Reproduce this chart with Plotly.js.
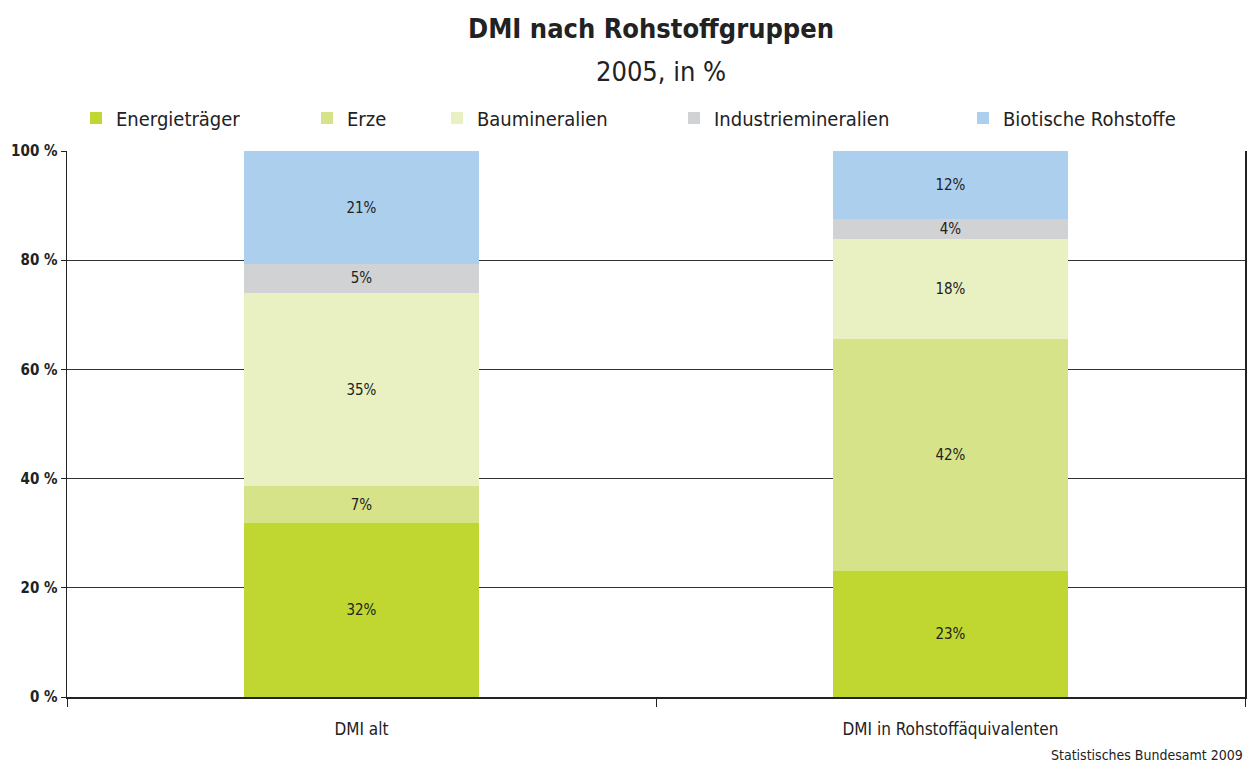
<!DOCTYPE html>
<html><head><meta charset="utf-8">
<script src="https://cdn.plot.ly/plotly-3.0.1.min.js"></script>
<style>body{margin:0;background:#fff}#c{width:1252px;height:765px}</style>
</head><body><div id="c"></div>
<script>
const categories = ["DMI alt", "DMI in Rohstoffäquivalenten"];
const seriesNames = ["Energieträger", "Erze", "Baumineralien", "Industriemineralien", "Biotische Rohstoffe"];
const energietraeger = [31.9, 23.1];
const erze = [6.7, 42.4];
const baumineralien = [35.4, 18.3];
const industriemineralien = [5.3, 3.8];
const biotisch = [20.7, 12.4];
const yTicks = [0, 20, 40, 60, 80, 100];
const yTickLabels = ["0 %", "20 %", "40 %", "60 %", "80 %", "100 %"];

const series = [energietraeger, erze, baumineralien, industriemineralien, biotisch];
const colors = ["#bfd730", "#d7e388", "#e9f1c3", "#d1d2d4", "#abcfec"];
const legendTextX = [116, 347, 477, 714, 1003];
const FONT = "DejaVu Sans Condensed, Liberation Sans Narrow, sans-serif";
const W = 1252;

const traces = series.map((vals, i) => ({
  type: "bar",
  name: seriesNames[i],
  x: categories,
  y: vals,
  marker: {color: colors[i], line: {width: 0}},
  text: vals.map(v => Math.round(v) + "%"),
  textposition: "inside",
  insidetextanchor: "middle",
  textangle: 0,
  textfont: {family: FONT, size: 15, color: "#222"},
  hoverinfo: "skip",
  legend: i === 0 ? "legend" : "legend" + (i + 1)
}));

const layout = {
  width: 1252, height: 765,
  margin: {l: 67, r: 7, t: 151, b: 68},
  paper_bgcolor: "#fff", plot_bgcolor: "#fff",
  barmode: "stack",
  bargap: 0.6,
  uniformtext: {mode: "show", minsize: 15},
  showlegend: true,
  font: {family: FONT, color: "#222"},
  xaxis: {
    type: "category",
    tickson: "boundaries",
    ticks: "outside", ticklen: 8, tickcolor: "#222", tickwidth: 1,
    ticklabelstandoff: 16,
    showline: true, linecolor: "#222", linewidth: 1.5,
    showgrid: false,
    tickfont: {family: FONT, size: 17, color: "#222"},
    fixedrange: true
  },
  yaxis: {
    range: [0, 100],
    tickvals: yTicks, ticktext: yTickLabels,
    ticks: "outside", ticklen: 5, tickcolor: "#222",
    showline: true, linecolor: "#222", linewidth: 1.5, mirror: true,
    showgrid: true, gridcolor: "#333", gridwidth: 1,
    zeroline: false,
    tickfont: {family: FONT, size: 15, color: "#222", weight: "bold"},
    fixedrange: true
  },
  annotations: [
    {text: "<b>DMI nach Rohstoffgruppen</b>", xref: "paper", yref: "paper",
     x: 0.5, y: 0, xanchor: "center", yanchor: "middle", showarrow: false,
     font: {family: FONT, size: 27, color: "#222"}},
    {text: "2005, in %", xref: "paper", yref: "paper",
     x: 0.5, y: 0, xanchor: "center", yanchor: "middle", showarrow: false,
     font: {family: FONT, size: 27, color: "#222"}},
    {text: "Statistisches Bundesamt 2009", xref: "paper", yref: "paper",
     x: 1, y: 0, xanchor: "right", yanchor: "middle", showarrow: false,
     font: {family: FONT, size: 14, color: "#222"}}
  ]
};

const plotH = 765 - 151 - 68, plotW = W - 67 - 7;
function py(px) { return (765 - 68 - px) / plotH; }
function pxX(px) { return (px - 67) / plotW; }
layout.annotations[0].y = py(29); layout.annotations[0].x = pxX(651);
layout.annotations[1].y = py(71); layout.annotations[1].x = pxX(661);
layout.annotations[2].y = py(755); layout.annotations[2].x = pxX(1245);

seriesNames.forEach((n, i) => {
  const key = i === 0 ? "legend" : "legend" + (i + 1);
  layout[key] = {
    x: pxX(legendTextX[i] - 40), y: py(118), xanchor: "left", yanchor: "middle",
    orientation: "h", bgcolor: "rgba(0,0,0,0)",
    font: {family: FONT, size: 20, color: "#222"},
    itemwidth: 30, itemclick: false, itemdoubleclick: false
  };
});

Plotly.newPlot("c", traces, layout, {displayModeBar: false, staticPlot: true});
</script></body></html>
